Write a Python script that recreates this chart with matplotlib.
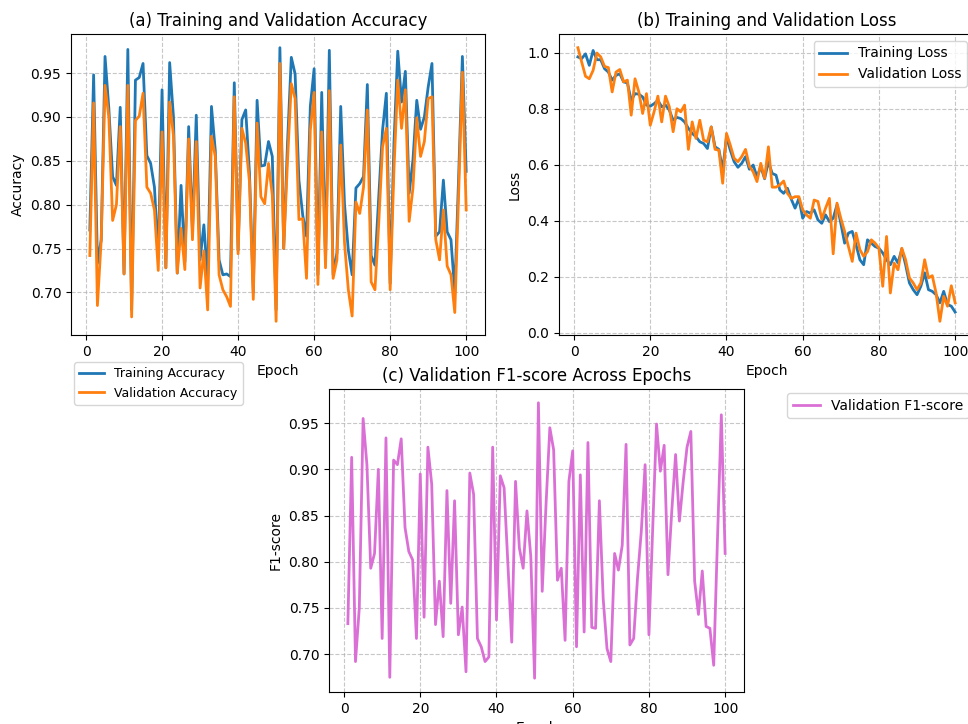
import matplotlib
matplotlib.use("Agg")
import matplotlib.pyplot as plt
import numpy as np

epochs = list(range(1, 101))

train_acc = [0.771, 0.948, 0.733, 0.760, 0.969, 0.910, 0.832, 0.822, 0.911, 0.721,
             0.977, 0.680, 0.942, 0.945, 0.961, 0.856, 0.847, 0.820, 0.740, 0.931,
             0.728, 0.962, 0.900, 0.722, 0.822, 0.735, 0.889, 0.770, 0.902, 0.737,
             0.777, 0.715, 0.912, 0.862, 0.737, 0.720, 0.721, 0.718, 0.939, 0.748,
             0.897, 0.908, 0.836, 0.700, 0.919, 0.844, 0.845, 0.872, 0.855, 0.680,
             0.979, 0.750, 0.870, 0.968, 0.949, 0.828, 0.788, 0.764, 0.912, 0.955,
             0.720, 0.928, 0.735, 0.976, 0.720, 0.745, 0.912, 0.800, 0.748, 0.720,
             0.819, 0.824, 0.832, 0.937, 0.742, 0.731, 0.809, 0.885, 0.927, 0.710,
             0.870, 0.975, 0.917, 0.952, 0.813, 0.851, 0.919, 0.886, 0.900, 0.934,
             0.961, 0.764, 0.769, 0.828, 0.769, 0.760, 0.700, 0.830, 0.969, 0.838]

val_acc = [0.742, 0.916, 0.685, 0.760, 0.936, 0.900, 0.782, 0.800, 0.889, 0.721,
           0.936, 0.672, 0.896, 0.901, 0.927, 0.820, 0.813, 0.794, 0.725, 0.883,
           0.728, 0.917, 0.879, 0.722, 0.773, 0.726, 0.875, 0.760, 0.872, 0.705,
           0.747, 0.680, 0.878, 0.855, 0.720, 0.703, 0.695, 0.684, 0.923, 0.744,
           0.887, 0.870, 0.826, 0.692, 0.893, 0.809, 0.801, 0.847, 0.811, 0.667,
           0.961, 0.750, 0.850, 0.938, 0.921, 0.783, 0.784, 0.716, 0.885, 0.928,
           0.709, 0.883, 0.728, 0.930, 0.716, 0.737, 0.868, 0.756, 0.703, 0.673,
           0.803, 0.790, 0.820, 0.908, 0.712, 0.703, 0.779, 0.866, 0.887, 0.703,
           0.840, 0.942, 0.887, 0.931, 0.781, 0.819, 0.899, 0.855, 0.872, 0.921,
           0.923, 0.760, 0.737, 0.794, 0.730, 0.720, 0.677, 0.810, 0.951, 0.794]

train_loss = [0.985, 0.979, 0.996, 0.955, 1.008, 0.975, 0.975, 0.943, 0.931, 0.902,
              0.919, 0.925, 0.896, 0.892, 0.830, 0.854, 0.852, 0.842, 0.813, 0.809,
              0.818, 0.830, 0.807, 0.813, 0.795, 0.759, 0.769, 0.765, 0.753, 0.730,
              0.712, 0.700, 0.682, 0.676, 0.658, 0.735, 0.664, 0.655, 0.581, 0.700,
              0.652, 0.611, 0.591, 0.605, 0.629, 0.584, 0.599, 0.557, 0.593, 0.550,
              0.611, 0.569, 0.563, 0.510, 0.498, 0.516, 0.477, 0.445, 0.480, 0.409,
              0.433, 0.427, 0.439, 0.403, 0.391, 0.421, 0.397, 0.409, 0.457, 0.391,
              0.320, 0.356, 0.362, 0.314, 0.261, 0.243, 0.332, 0.320, 0.308, 0.302,
              0.285, 0.261, 0.243, 0.273, 0.249, 0.299, 0.243, 0.178, 0.154, 0.136,
              0.166, 0.214, 0.154, 0.148, 0.136, 0.107, 0.148, 0.101, 0.095, 0.074]

val_loss = [1.018, 0.967, 0.916, 0.907, 0.937, 0.999, 0.985, 0.951, 0.947, 0.860,
            0.931, 0.940, 0.896, 0.902, 0.777, 0.907, 0.860, 0.783, 0.854, 0.741,
            0.789, 0.845, 0.753, 0.845, 0.807, 0.718, 0.800, 0.789, 0.813, 0.655,
            0.753, 0.694, 0.759, 0.688, 0.682, 0.735, 0.655, 0.652, 0.534, 0.712,
            0.670, 0.623, 0.611, 0.629, 0.655, 0.595, 0.575, 0.540, 0.605, 0.552,
            0.664, 0.520, 0.520, 0.528, 0.542, 0.498, 0.480, 0.486, 0.486, 0.439,
            0.421, 0.409, 0.474, 0.469, 0.406, 0.445, 0.480, 0.282, 0.463, 0.409,
            0.362, 0.308, 0.255, 0.356, 0.297, 0.273, 0.290, 0.332, 0.320, 0.302,
            0.166, 0.344, 0.142, 0.249, 0.225, 0.302, 0.261, 0.196, 0.178, 0.154,
            0.178, 0.261, 0.196, 0.204, 0.142, 0.041, 0.130, 0.095, 0.168, 0.107]

val_f1 = [0.733, 0.913, 0.692, 0.750, 0.955, 0.905, 0.793, 0.809, 0.900, 0.717,
          0.934, 0.675, 0.910, 0.905, 0.933, 0.837, 0.811, 0.802, 0.717, 0.895,
          0.740, 0.924, 0.884, 0.732, 0.779, 0.719, 0.877, 0.755, 0.866, 0.721,
          0.751, 0.681, 0.896, 0.873, 0.717, 0.708, 0.692, 0.697, 0.924, 0.737,
          0.893, 0.880, 0.797, 0.713, 0.887, 0.815, 0.793, 0.855, 0.806, 0.674,
          0.972, 0.768, 0.862, 0.945, 0.921, 0.780, 0.793, 0.715, 0.887, 0.920,
          0.708, 0.894, 0.724, 0.929, 0.729, 0.728, 0.866, 0.760, 0.706, 0.692,
          0.809, 0.791, 0.818, 0.927, 0.710, 0.717, 0.782, 0.833, 0.905, 0.721,
          0.837, 0.949, 0.898, 0.926, 0.786, 0.855, 0.916, 0.844, 0.887, 0.924,
          0.941, 0.779, 0.743, 0.790, 0.730, 0.728, 0.688, 0.826, 0.959, 0.809]

W, H = 968, 724
fig = plt.figure(figsize=(W / 100, H / 100), dpi=100)

def box(l, t, r, b):
    return [l / W, 1 - b / H, (r - l) / W, (b - t) / H]

grid_kw = dict(linestyle='--', alpha=0.7)
fs = 10

ax1 = fig.add_axes(box(71, 34, 485, 335))
ax1.plot(epochs, train_acc, color='#1f77b4', lw=2, label='Training Accuracy')
ax1.plot(epochs, val_acc, color='#ff7f0e', lw=2, label='Validation Accuracy')
ax1.set_title('(a) Training and Validation Accuracy', fontsize=12)
ax1.set_xlabel('Epoch', fontsize=fs)
ax1.set_ylabel('Accuracy', fontsize=fs)
ax1.grid(True, **grid_kw)
ax1.legend(loc='upper left', bbox_to_anchor=(68 / W, 1 - 356 / H),
           bbox_transform=fig.transFigure, fontsize=9)

ax2 = fig.add_axes(box(559, 34, 974, 335))
ax2.plot(epochs, train_loss, color='#1f77b4', lw=2, label='Training Loss')
ax2.plot(epochs, val_loss, color='#ff7f0e', lw=2, label='Validation Loss')
ax2.set_title('(b) Training and Validation Loss', fontsize=12)
ax2.set_xlabel('Epoch', fontsize=fs)
ax2.set_ylabel('Loss', fontsize=fs)
ax2.grid(True, **grid_kw)
ax2.legend(loc='upper right', bbox_to_anchor=(974 / W, 1 - 34 / H),
           bbox_transform=fig.transFigure, fontsize=fs)

ax3 = fig.add_axes(box(329, 389, 744, 692))
ax3.plot(epochs, val_f1, color='orchid', lw=2, label='Validation F1-score')
ax3.set_title('(c) Validation F1-score Across Epochs', fontsize=12)
ax3.set_xlabel('Epoch', fontsize=fs)
ax3.set_ylabel('F1-score', fontsize=fs)
ax3.grid(True, **grid_kw)
ax3.legend(loc='upper left', bbox_to_anchor=(780 / W, 1 - 386 / H),
           bbox_transform=fig.transFigure, fontsize=fs)

fig.savefig('out.png', dpi=100)
